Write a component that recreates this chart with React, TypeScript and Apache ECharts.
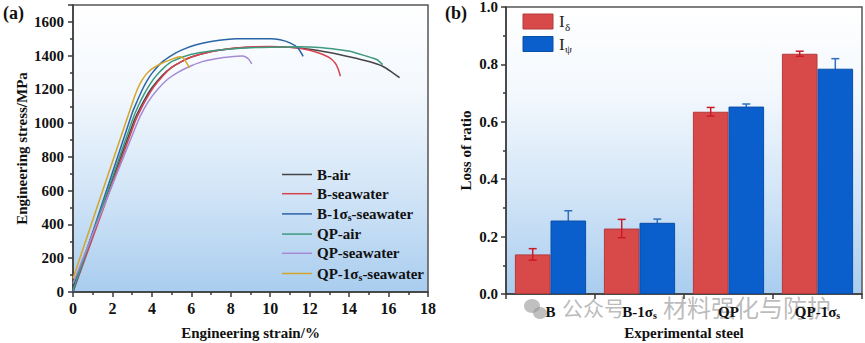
import React, { useEffect, useRef } from "react";
import * as echarts from "echarts";

// ---------- Data: (a) tensile curves [strain %, stress MPa] ----------
const bAir = [[0,30],[3.1,1015],[3.4,1090],[3.7,1155],[4,1210],[4.5,1280],[5,1330],[5.5,1365],[6,1392],[7,1425],[8,1441],[9,1450],[10,1452],[11,1449],[12,1438],[13,1418],[14,1393],[15,1365],[15.7,1337],[16.2,1300],[16.56,1270]];
const bSeawater = [[0,0],[3.15,1010],[3.45,1085],[3.75,1150],[4.1,1215],[4.6,1285],[5,1330],[5.5,1365],[6,1392],[7,1423],[8,1442],[9,1451],[10,1454],[11,1450],[11.5,1444],[12,1432],[12.5,1414],[13,1388],[13.3,1355],[13.45,1320],[13.56,1278]];
const b1sSeawater = [[0,0],[3.0,1060],[3.25,1130],[3.5,1195],[3.75,1250],[4,1295],[4.5,1360],[5,1402],[5.5,1433],[6.2,1463],[7,1484],[8.3,1500],[10,1500],[10.5,1494],[11,1476],[11.4,1446],[11.67,1396]];
const qpAir = [[0,10],[3.0,1015],[3.3,1100],[3.6,1170],[3.9,1230],[4.25,1285],[4.67,1335],[5,1365],[6,1408],[7,1428],[8,1440],[9,1447],[10,1450],[11.5,1452],[12.5,1448],[13.5,1435],[14.04,1426],[14.8,1400],[15.4,1377],[15.7,1347]];
const qpSeawater = [[0,50],[3.25,1000],[3.6,1085],[3.95,1150],[4.33,1205],[4.8,1260],[5.3,1300],[6,1340],[6.6,1366],[7.5,1386],[8.3,1396],[8.6,1398],[8.9,1380],[9.06,1352]];
const qp1sSeawater = [[0,80],[3.1,1150],[3.3,1210],[3.5,1255],[3.75,1295],[4,1322],[4.5,1355],[5,1378],[5.4,1393],[5.6,1385],[5.75,1360],[5.9,1328]];

const curveNames = ["B-air", "B-seawater", "B-1σs-seawater", "QP-air", "QP-seawater", "QP-1σs-seawater"];
const curveColors = ["#454545", "#d6434d", "#2a64a8", "#3f9a80", "#a58ad6", "#d3a52a"];
const curves = [bAir, bSeawater, b1sSeawater, qpAir, qpSeawater, qp1sSeawater];

// ---------- Data: (b) loss of ratio ----------
const steels = ["B", "B-1σs", "QP", "QP-1σs"];
const barNames = ["Iδ", "Iψ"];
const barColors = ["#d84a4a", "#0b5fcc"];
const barBorders = ["#b53a3a", "#0a4ea8"];
const iDelta = [0.138, 0.228, 0.635, 0.837];
const iDeltaErr = [0.02, 0.032, 0.015, 0.009];
const iPsi = [0.256, 0.248, 0.653, 0.785];
const iPsiErr = [0.034, 0.013, 0.009, 0.035];

const FONT = '"Liberation Serif", "Times New Roman", serif';

function fmt(s: string) {
  const parts = s.split("σs");
  return parts
    .map((p, i) => (p ? `{b|${p}}` : "") + (i < parts.length - 1 ? "{b|σ}{sub|s}" : ""))
    .join("");
}

const gradient = () =>
  new echarts.graphic.LinearGradient(0, 0, 0, 1, [
    { offset: 0, color: "#ffffff" },
    { offset: 0.3, color: "#f3f8fd" },
    { offset: 0.65, color: "#d2e5f7" },
    { offset: 1, color: "#a9cdef" },
  ]);

function errRender(sign: number, color: string) {
  return (params: any, api: any) => {
    const x = api.value(0);
    const lo = api.value(1);
    const hi = api.value(2);
    const band = api.size([1, 0])[0];
    const cx = api.coord([x, hi])[0] + sign * band * 0.2;
    const yHi = api.coord([x, hi])[1];
    const yLo = api.coord([x, lo])[1];
    const cap = 4;
    const st = { stroke: color, lineWidth: 1.5 };
    return {
      type: "group",
      children: [
        { type: "line", shape: { x1: cx, y1: yHi, x2: cx, y2: yLo }, style: st },
        { type: "line", shape: { x1: cx - cap, y1: yHi, x2: cx + cap, y2: yHi }, style: st },
        { type: "line", shape: { x1: cx - cap, y1: yLo, x2: cx + cap, y2: yLo }, style: st },
      ],
    };
  };
}

const boldLabel = { fontFamily: FONT, fontWeight: "bold" as const, fontSize: 15, color: "#111" };
const richSub = {
  b: { fontFamily: FONT, fontWeight: "bold", fontSize: 15, color: "#111", lineHeight: 18 },
  sub: { fontFamily: FONT, fontWeight: "bold", fontSize: 10, color: "#111", lineHeight: 11, padding: [7, 0, 0, 0] },
};

export default function App() {
  const ref = useRef<HTMLDivElement>(null);
  useEffect(() => {
    if (!ref.current) return;
    const chart = echarts.init(ref.current, undefined, { renderer: "svg" });
    const axisLineStyle = { color: "#3a3a3a", width: 1.5 };
    const legendB = barNames.flatMap((n, i) => {
      const y = 14 + i * 22.5;
      return [
        { type: "rect", shape: { x: 523, y, width: 30, height: 15 }, style: { fill: barColors[i], stroke: barBorders[i], lineWidth: 1 } },
        { type: "text", x: 559, y: y - 1, style: { text: "I", fontFamily: FONT, fontSize: 17, fill: "#222222" } },
        { type: "text", x: 565, y: y + 7, style: { text: n.slice(1), fontFamily: FONT, fontSize: 11, fill: "#222222" } },
      ];
    });
    const option: any = {
      animation: false,
      backgroundColor: "#ffffff",
      grid: [
        { left: 73, top: 5, width: 355, height: 287, show: true, backgroundColor: gradient(), borderColor: "#555", borderWidth: 1.5, containLabel: false, outerBoundsMode: "none" },
        { left: 506, top: 7, width: 356, height: 287, show: true, backgroundColor: gradient(), borderColor: "#555", borderWidth: 1.5, containLabel: false, outerBoundsMode: "none" },
      ],
      xAxis: [
        {
          gridIndex: 0, type: "value", min: 0, max: 18, interval: 2,
          axisLine: { show: true, lineStyle: axisLineStyle },
          axisTick: { show: true, inside: false, length: 5, lineStyle: axisLineStyle },
          minorTick: { show: true, splitNumber: 2, length: 3, lineStyle: axisLineStyle },
          splitLine: { show: false },
          axisLabel: { ...boldLabel, fontSize: 16, margin: 8 },
          name: "Engineering strain/%", nameLocation: "middle", nameGap: 33,
          nameTextStyle: { ...boldLabel },
        },
        {
          gridIndex: 1, type: "category", data: steels, boundaryGap: true,
          axisLine: { show: true, lineStyle: axisLineStyle },
          axisTick: { show: true, inside: false, length: 5, alignWithLabel: false, interval: 0, lineStyle: axisLineStyle },
          axisLabel: { margin: 9, interval: 0, formatter: (v: string) => fmt(v), rich: richSub },
          name: "Experimental steel", nameLocation: "middle", nameGap: 30,
          nameTextStyle: { ...boldLabel },
        },
      ],
      yAxis: [
        {
          gridIndex: 0, type: "value", min: 0, max: 1700, interval: 200,
          axisLine: { show: true, lineStyle: axisLineStyle },
          axisTick: { show: true, inside: false, length: 5, lineStyle: axisLineStyle },
          minorTick: { show: true, splitNumber: 2, length: 3, lineStyle: axisLineStyle },
          splitLine: { show: false },
          axisLabel: { ...boldLabel, margin: 9, showMaxLabel: false, formatter: (v: number) => (v > 1600 ? "" : String(v)) },
          name: "Engineering stress/MPa", nameLocation: "middle", nameGap: 44,
          nameTextStyle: { ...boldLabel },
        },
        {
          gridIndex: 1, type: "value", min: 0, max: 1, interval: 0.2,
          axisLine: { show: true, lineStyle: axisLineStyle },
          axisTick: { show: true, inside: false, length: 5, lineStyle: axisLineStyle },
          minorTick: { show: true, splitNumber: 2, length: 3, lineStyle: axisLineStyle },
          splitLine: { show: false },
          axisLabel: { ...boldLabel, margin: 8, formatter: (v: number) => v.toFixed(1) },
          name: "Loss of ratio", nameLocation: "middle", nameGap: 33,
          nameTextStyle: { ...boldLabel },
        },
      ],
      legend: [
        {
          data: curveNames, orient: "vertical", left: 282, top: 167, padding: 0,
          icon: "rect", itemWidth: 30, itemHeight: 1.5, itemGap: 4.2,
          formatter: (n: string) => fmt(n),
          textStyle: { ...boldLabel, padding: [0, 0, 0, 0], rich: richSub },
        },
      ],
      series: [
        ...curves.map((d, i) => ({
          name: curveNames[i], type: "line", xAxisIndex: 0, yAxisIndex: 0, data: d,
          symbol: "none", smooth: 0.2,
          lineStyle: { color: curveColors[i], width: 1.5 }, itemStyle: { color: curveColors[i] },
        })),
        {
          name: barNames[0], type: "bar", xAxisIndex: 1, yAxisIndex: 1, data: iDelta,
          barGap: "0%", barCategoryGap: "20%", z: 2,
          itemStyle: { color: barColors[0], borderColor: barBorders[0], borderWidth: 1 },
        },
        {
          name: barNames[1], type: "bar", xAxisIndex: 1, yAxisIndex: 1, data: iPsi,
          barGap: "0%", barCategoryGap: "20%", z: 2,
          itemStyle: { color: barColors[1], borderColor: barBorders[1], borderWidth: 1 },
        },
        {
          type: "custom", xAxisIndex: 1, yAxisIndex: 1, z: 5,
          data: iDelta.map((v, i) => [i, v - iDeltaErr[i], v + iDeltaErr[i]]),
          encode: { x: 0, y: [1, 2] },
          renderItem: errRender(-1, "#cc1a26"),
        },
        {
          type: "custom", xAxisIndex: 1, yAxisIndex: 1, z: 1,
          data: iPsi.map((v, i) => [i, v - iPsiErr[i], v + iPsiErr[i]]),
          encode: { x: 0, y: [1, 2] },
          renderItem: errRender(1, "#2e6fbf"),
        },
      ],
      graphic: [
        { type: "text", left: 3, top: 4, style: { text: "(a)", fontFamily: FONT, fontWeight: "bold", fontSize: 18, fill: "#111" } },
        { type: "text", left: 445, top: 4, style: { text: "(b)", fontFamily: FONT, fontWeight: "bold", fontSize: 18, fill: "#111" } },
        ...legendB,
        {
          type: "group", z: 100,
          children: [
            { type: "ellipse", shape: { cx: 532, cy: 306, rx: 8, ry: 7 }, style: { fill: "rgba(150,150,150,0.6)" } },
            { type: "ellipse", shape: { cx: 540, cy: 313, rx: 7, ry: 6 }, style: { fill: "rgba(150,150,150,0.6)" } },
            { type: "text", x: 562, y: 296, style: { text: "公众号", fontFamily: '"Noto Sans CJK SC", sans-serif', fontSize: 21, fill: "rgba(130,130,130,0.55)" } },
            { type: "text", x: 663, y: 294, style: { text: "材料强化与防护", fontFamily: '"Noto Sans CJK SC", sans-serif', fontSize: 24, fill: "rgba(130,130,130,0.55)" } },
          ],
        },
      ],
    };
    chart.setOption(option);
    return () => chart.dispose();
  }, []);
  return <div ref={ref} style={{ position: "fixed", left: 0, top: 0, width: 865, height: 343 }} />;
}
